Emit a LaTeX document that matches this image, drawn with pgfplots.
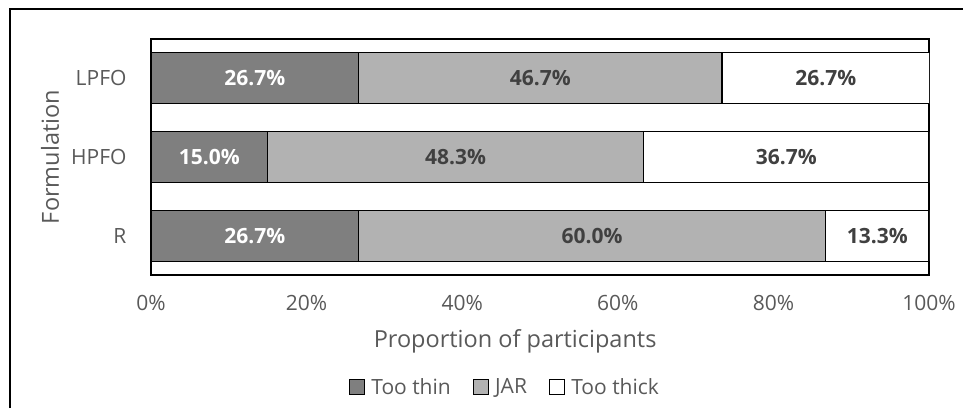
\documentclass[border=0pt]{standalone}
\usepackage{fontspec}
\setmainfont{Open Sans}
\usepackage{pgfplots}
\pgfplotsset{compat=1.18}

\definecolor{thin}{HTML}{7F7F7F}
\definecolor{jar}{HTML}{B2B2B2}
\definecolor{txt}{HTML}{595959}
\definecolor{lbl}{HTML}{404040}

\begin{document}
\begin{tikzpicture}
\useasboundingbox (0pt,0pt) rectangle (963pt,-408pt);
% chart frame (top and left edges)
\draw[line width=2.2pt] (10pt,-408pt) -- (10pt,-9pt) -- (963pt,-9pt);

\begin{axis}[
  at={(151pt,-275pt)}, anchor=south west,
  scale only axis, width=778pt, height=236pt,
  xbar stacked, bar width=51pt,
  xmin=0, xmax=100, ymin=-0.5, ymax=2.5,
  xtick={0,20,40,60,80,100},
  xticklabels={0\%,20\%,40\%,60\%,80\%,100\%},
  ytick={0,1,2}, yticklabels={R,HPFO,LPFO},
  major tick length=0pt,
  axis line style={line width=1.5pt},
  ticklabel style={font=\fontsize{21}{25}\selectfont, text=txt},
  xticklabel style={yshift=-17pt},
  yticklabel style={xshift=-21pt},
  xlabel={Proportion of participants}, ylabel={Formulation},
  label style={font=\fontsize{23.5}{28}\selectfont, text=txt},
  xlabel style={at={(axis description cs:0.468,-0.2797)}, anchor=center},
  ylabel style={at={(axis description cs:-0.1298,0.5)}, anchor=center},
  legend columns=3,
  legend style={draw=none, fill=none, at={(0.455,-0.4746)}, anchor=center,
    font=\fontsize{21}{25}\selectfont, text=txt,
    /tikz/every odd column/.append style={column sep=4pt},
    /tikz/every even column/.append style={column sep=20pt}},
  legend image code/.code={\draw[#1, line width=1.3pt, draw=black] (0pt,-7.5pt) rectangle (15pt,7.5pt);},
]
\addplot[fill=thin, draw=black, line width=1.3pt] coordinates {(26.7,0) (15.0,1) (26.7,2)};
\addlegendentry{Too thin}
\addplot[fill=jar, draw=black, line width=1.3pt] coordinates {(60.0,0) (48.3,1) (46.7,2)};
\addlegendentry{JAR}
\addplot[fill=white, draw=black, line width=1.3pt] coordinates {(13.3,0) (36.7,1) (26.7,2)};
\addlegendentry{Too thick}
\end{axis}

% value labels, centred in each segment
\begin{axis}[
  at={(151pt,-275pt)}, anchor=south west,
  scale only axis, width=778pt, height=236pt,
  xmin=0, xmax=100, ymin=-0.5, ymax=2.5, hide axis,
  point meta=explicit,
  /pgf/number format/assume math mode=true,
  nodes near coords={\pgfmathprintnumber[fixed,fixed zerofill,precision=1]{\pgfplotspointmeta}\%},
  nodes near coords align=center,
  every node near coord/.append style={font=\bfseries\fontsize{21}{25}\selectfont, anchor=center},
]
\addplot[draw=none, mark=none, every node near coord/.append style={text=white}]
  coordinates {(13.35,0) [26.7] (7.5,1) [15.0] (13.35,2) [26.7]};
\addplot[draw=none, mark=none, every node near coord/.append style={text=lbl}]
  coordinates {(56.7,0) [60.0] (39.15,1) [48.3] (50.05,2) [46.7]};
\addplot[draw=none, mark=none, every node near coord/.append style={text=lbl}]
  coordinates {(93.35,0) [13.3] (81.65,1) [36.7] (86.75,2) [26.7]};
\end{axis}
\end{tikzpicture}
\end{document}
